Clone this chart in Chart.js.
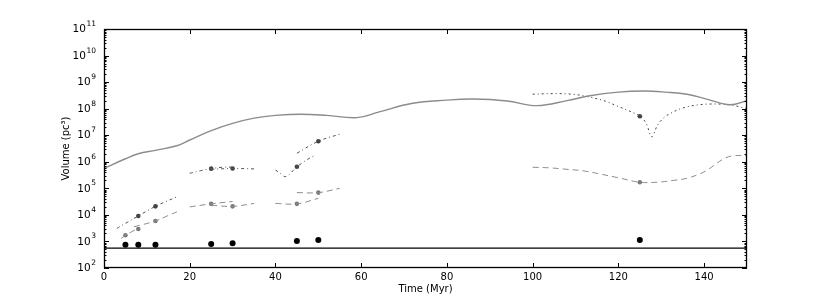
<!DOCTYPE html>
<html>
<head>
<meta charset="utf-8">
<script src="https://cdn.jsdelivr.net/npm/chart.js@4/dist/chart.umd.min.js"></script>
<style>
  html, body { margin: 0; padding: 0; background: #fff; }
  #wrap { width: 830px; height: 297px; }
</style>
</head>
<body>
<div id="wrap"><canvas id="volChart" width="830" height="297"></canvas></div>
<script>
// tick labels
var xTicks = [0, 20, 40, 60, 80, 100, 120, 140];
var yExponents = [2, 3, 4, 5, 6, 7, 8, 9, 10, 11];

// solid grey curve
var solidTime = [0, 5, 8, 12, 17, 20, 25, 30, 35, 40, 46, 52, 59, 64, 72, 80, 86, 94, 101, 108, 113, 120, 126, 131, 136, 141, 146, 150];
var solidVol = [5.6e5, 1.3e6, 2.0e6, 2.7e6, 4.0e6, 6.6e6, 1.5e7, 2.8e7, 4.4e7, 5.6e7, 6.2e7, 5.6e7, 4.6e7, 7.4e7, 1.6e8, 2.1e8, 2.3e8, 1.95e8, 1.3e8, 2.0e8, 3.0e8, 4.2e8, 4.6e8, 4.2e8, 3.5e8, 2.2e8, 1.4e8, 2.0e8];

// dash-dot curves (upper)
var upA_t = [3, 5, 8, 12, 17];
var upA_v = [3.1e3, 4.8e3, 9.1e3, 2.1e4, 4.8e4];
var up25_t = [20, 22.5, 25, 27.5, 30];
var up25_v = [3.7e5, 4.6e5, 5.5e5, 6.2e5, 6.3e5];
var up30_t = [25, 30, 35];
var up30_v = [5.2e5, 5.6e5, 5.4e5];
var up45_t = [40, 41, 42.2, 45, 47, 49];
var up45_v = [4.9e5, 3.8e5, 2.75e5, 6.5e5, 1.1e6, 1.7e6];
var up50_t = [45, 50, 55];
var up50_v = [2.1e6, 5.9e6, 1.1e7];
var up125_t = [100, 105, 110, 113, 117, 120, 123, 125, 126.5, 127.8, 129, 130.5, 132.5, 134.5, 138, 142, 146, 150];
var up125_v = [3.5e8, 3.7e8, 3.4e8, 2.8e8, 1.9e8, 1.2e8, 7.6e7, 5.2e7, 2.8e7, 8.7e6, 2.2e7, 4.4e7, 7.1e7, 1.0e8, 1.35e8, 1.5e8, 1.4e8, 1.0e8];

// dashed curves (lower)
var loA1_t = [4, 5, 6, 7, 8];
var loA1_v = [1.3e3, 1.7e3, 2.1e3, 2.6e3, 2.95e3];
var loA2_t = [7, 9, 12, 15, 17];
var loA2_v = [3.6e3, 4.3e3, 5.9e3, 9.5e3, 1.3e4];
var lo25_t = [20, 25, 30];
var lo25_v = [2.0e4, 2.6e4, 3.2e4];
var lo30_t = [25, 30, 35];
var lo30_v = [2.3e4, 2.1e4, 2.7e4];
var lo45_t = [40, 45, 50];
var lo45_v = [2.7e4, 2.6e4, 4.2e4];
var lo50_t = [45, 50, 55];
var lo50_v = [6.9e4, 6.9e4, 1.0e5];
var lo125_t = [100, 104, 108, 112, 116, 120, 125, 129, 133, 136, 139, 141, 143, 145, 147, 150];
var lo125_v = [6.2e5, 5.9e5, 5.2e5, 4.5e5, 3.4e5, 2.5e5, 1.7e5, 1.7e5, 2.0e5, 2.4e5, 3.5e5, 5.2e5, 8.9e5, 1.4e6, 1.7e6, 1.7e6];

// markers
var upMarkT = [8, 12, 25, 30, 45, 50, 125];
var upMarkV = [9.1e3, 2.1e4, 5.5e5, 5.6e5, 6.5e5, 5.9e6, 5.2e7];
var loMarkT = [5, 8, 12, 25, 30, 45, 50, 125];
var loMarkV = [1.7e3, 2.95e3, 5.9e3, 2.6e4, 2.1e4, 2.6e4, 6.9e4, 1.7e5];
var blackT = [5, 8, 12, 25, 30, 45, 50, 125];
var blackV = [750, 750, 750, 800, 850, 1050, 1130, 1130];

// horizontal limit line
var limitT = [0, 150];
var limitV = [560, 560];

function pts(t, v) {
    return t.map(function (x, i) { return { x: x, y: v[i] }; });
}

var dashDot = [3, 3, 1, 3];
var dashed = [6, 4];

function curve(t, v, color, dash, width, sharp) {
    var ds = {
        data: pts(t, v),
        borderColor: color,
        borderWidth: width || 1,
        borderDash: dash || [],
        pointRadius: 0,
        fill: false
    };
    if (sharp) ds.cubicInterpolationMode = 'monotone';
    else ds.tension = 0.4;
    return ds;
}
function markers(t, v, color, r) {
    return {
        data: pts(t, v),
        showLine: false,
        pointRadius: r,
        pointBackgroundColor: color,
        pointBorderColor: color,
        pointBorderWidth: 0
    };
}

var datasets = [
    curve(solidTime, solidVol, '#8c8c8c', [], 1.4),
    curve(upA_t, upA_v, '#555', dashDot),
    curve(up25_t, up25_v, '#555', dashDot),
    curve(up30_t, up30_v, '#555', dashDot),
    curve(up45_t, up45_v, '#555', dashDot, 1, true),
    curve(up50_t, up50_v, '#555', dashDot),
    curve(up125_t, up125_v, '#444', [2, 3, 1, 3], 1, true),
    curve(loA1_t, loA1_v, '#8c8c8c', dashed),
    curve(loA2_t, loA2_v, '#8c8c8c', dashed),
    curve(lo25_t, lo25_v, '#8c8c8c', dashed),
    curve(lo30_t, lo30_v, '#8c8c8c', dashed),
    curve(lo45_t, lo45_v, '#8c8c8c', dashed),
    curve(lo50_t, lo50_v, '#8c8c8c', dashed),
    curve(lo125_t, lo125_v, '#8c8c8c', dashed),
    curve(limitT, limitV, '#000', [], 1.2),
    markers(upMarkT, upMarkV, '#444', 2.3),
    markers(loMarkT, loMarkV, '#7a7a7a', 2.3),
    markers(blackT, blackV, '#000', 3)
];

// frame, inward ticks and 10^n labels like the original figure
var framePlugin = {
    id: 'frame',
    afterDatasetsDraw: function (chart) {
        var ctx = chart.ctx, a = chart.chartArea;
        var xs = chart.scales.x, ys = chart.scales.y;
        ctx.save();
        ctx.strokeStyle = '#000';
        ctx.lineWidth = 1;
        ctx.beginPath();
        xTicks.forEach(function (t) {
            var px = Math.round(xs.getPixelForValue(t)) + 0.5;
            ctx.moveTo(px, a.bottom); ctx.lineTo(px, a.bottom - 5);
            ctx.moveTo(px, a.top); ctx.lineTo(px, a.top + 5);
        });
        yExponents.forEach(function (e) {
            for (var m = 1; m < 10; m++) {
                if (e === 11 && m > 1) break;
                var py = Math.round(ys.getPixelForValue(m * Math.pow(10, e))) + 0.5;
                var len = m === 1 ? 5 : 2.5;
                ctx.moveTo(a.left, py); ctx.lineTo(a.left + len, py);
                ctx.moveTo(a.right, py); ctx.lineTo(a.right - len, py);
            }
        });
        ctx.stroke();
        ctx.lineWidth = 1.3;
        ctx.strokeRect(a.left + 0.5, a.top + 0.5, a.right - a.left - 1, a.bottom - a.top - 1);

        // y tick labels: "10" with a raised exponent
        ctx.fillStyle = '#000';
        ctx.textBaseline = 'middle';
        ctx.textAlign = 'right';
        yExponents.forEach(function (e) {
            var py = ys.getPixelForValue(Math.pow(10, e));
            var ex = String(e);
            ctx.font = '7.5px "DejaVu Sans"';
            var w = ctx.measureText(ex).width;
            ctx.fillText(ex, 96, py - 5);
            ctx.font = '10.5px "DejaVu Sans"';
            ctx.fillText('10', 96 - w - 0.5, py + 0.5);
        });
        ctx.restore();
    }
};

var ctx = document.getElementById('volChart').getContext('2d');
var volChart = new Chart(ctx, {
    type: 'line',
    data: { datasets: datasets },
    options: {
        responsive: false,
        animation: false,
        layout: { padding: { left: 0, right: 83, top: 29, bottom: 0 } },
        plugins: {
            legend: { display: false },
            tooltip: { enabled: false }
        },
        scales: {
            x: {
                type: 'linear',
                min: 0,
                max: 150,
                afterBuildTicks: function (s) { s.ticks = xTicks.map(function (v) { return { value: v }; }); },
                afterFit: function (s) { s.height = 29; },
                grid: { display: false, drawTicks: false },
                border: { display: false },
                ticks: { color: '#000', font: { family: 'DejaVu Sans', size: 10 }, padding: 3, maxRotation: 0 },
                title: { display: true, text: 'Time (Myr)', color: '#000', font: { family: 'DejaVu Sans', size: 10 }, padding: { top: 0, bottom: 2 } }
            },
            y: {
                type: 'logarithmic',
                min: 100,
                max: 1e11,
                afterBuildTicks: function (s) { s.ticks = yExponents.map(function (e) { return { value: Math.pow(10, e) }; }); },
                afterFit: function (s) { s.width = 104; },
                grid: { display: false, drawTicks: false },
                border: { display: false },
                ticks: { display: false },
                title: { display: true, text: 'Volume (pc³)', color: '#000', font: { family: 'DejaVu Sans', size: 10 }, padding: { top: 60, bottom: 0 } }
            }
        }
    },
    plugins: [framePlugin]
});
</script>
</body>
</html>
